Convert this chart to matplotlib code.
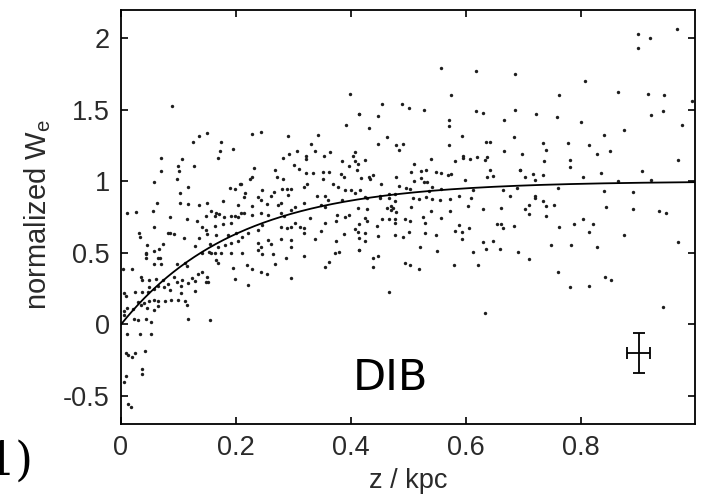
import numpy as np
import matplotlib
matplotlib.use("Agg")
import matplotlib.pyplot as plt

# ---- data ----
z_kpc = [
0.967,0.899,0.919,0.899,0.806,0.864,0.762,0.917,0.944,0.993,0.721,0.758,0.800,0.921,0.942,0.975,0.875,0.839,
0.734,0.739,0.777,0.813,0.828,0.851,0.697,0.735,0.781,0.780,0.968,0.906,0.834,0.703,0.717,0.734,0.804,0.694,
0.720,0.864,0.922,0.759,0.839,0.891,0.720,0.720,0.734,0.710,0.703,0.739,0.752,0.710,0.739,0.844,0.891,0.936,
0.947,0.762,0.787,0.804,0.821,0.813,0.874,0.748,0.783,0.828,0.968,0.710,0.759,0.781,0.813,0.842,0.852,0.942,
0.557,0.617,0.685,0.574,0.454,0.488,0.501,0.526,0.414,0.447,0.571,0.571,0.617,0.630,0.685,0.666,0.431,0.463,
0.593,0.684,0.447,0.478,0.491,0.483,0.571,0.634,0.642,0.666,0.595,0.595,0.606,0.619,0.636,0.633,0.539,0.581,
0.425,0.412,0.510,0.504,0.521,0.531,0.548,0.556,0.568,0.574,0.641,0.647,0.693,0.417,0.432,0.438,0.478,0.636,
0.433,0.510,0.522,0.526,0.532,0.598,0.416,0.452,0.484,0.496,0.503,0.541,0.536,0.557,0.612,0.665,0.688,0.425,
0.428,0.450,0.450,0.466,0.476,0.466,0.476,0.508,0.518,0.531,0.541,0.554,0.572,0.588,0.608,0.676,0.412,0.428,
0.463,0.470,0.473,0.478,0.469,0.504,0.539,0.572,0.603,0.629,0.660,0.424,0.428,0.454,0.466,0.477,0.477,0.493,
0.502,0.525,0.529,0.556,0.413,0.445,0.500,0.588,0.581,0.593,0.605,0.654,0.660,0.664,0.683,0.412,0.425,0.447,
0.476,0.490,0.528,0.547,0.593,0.414,0.425,0.630,0.647,0.414,0.519,0.550,0.612,0.635,0.659,0.690,0.438,0.447,
0.438,0.493,0.503,0.518,0.579,0.620,0.466,0.633,
0.399,0.413,0.392,0.228,0.243,0.291,0.343,0.330,0.337,0.306,0.292,0.282,0.322,0.322,0.353,0.363,0.407,0.403,
0.384,0.406,0.301,0.309,0.231,0.227,0.224,0.267,0.321,0.334,0.351,0.361,0.383,0.388,0.397,0.410,0.272,0.281,
0.351,0.208,0.245,0.280,0.288,0.295,0.319,0.323,0.369,0.377,0.389,0.400,0.407,0.215,0.213,0.238,0.243,0.261,
0.266,0.290,0.340,0.355,0.360,0.384,0.203,0.227,0.254,0.273,0.278,0.303,0.296,0.319,0.348,0.354,0.214,0.227,
0.244,0.256,0.278,0.283,0.329,0.375,0.373,0.389,0.396,0.354,0.303,0.312,0.279,0.289,0.296,0.319,0.319,0.245,
0.238,0.221,0.210,0.347,0.388,0.407,0.256,0.261,0.279,0.296,0.295,0.337,0.374,0.238,0.243,0.210,0.245,0.264,
0.287,0.319,0.372,0.379,0.203,
0.239,0.219,0.228,0.267,0.243,0.254,0.295,0.221,0.355,0.362,0.413,
0.089,0.126,0.135,0.150,0.173,0.172,0.168,0.195,0.069,0.069,0.106,0.099,0.100,0.127,0.097,0.057,0.117,0.103,
0.190,0.198,0.207,0.063,0.103,0.117,0.135,0.150,0.177,0.011,0.026,0.056,0.156,0.166,0.163,0.171,0.085,0.114,
0.132,0.148,0.179,0.192,0.199,0.209,0.163,0.178,0.192,0.057,0.081,0.085,0.092,0.031,0.033,0.110,0.140,0.147,
0.136,0.150,0.166,0.186,0.200,0.045,0.043,0.057,0.066,0.073,0.128,0.155,0.169,0.180,0.192,0.203,0.140,0.153,
0.163,0.174,0.192,0.068,
0.043,0.043,0.019,0.057,0.070,0.098,0.111,0.114,0.064,0.157,0.166,0.169,0.195,0.198,0.034,0.037,0.048,0.060,
0.073,0.092,0.098,0.106,0.123,0.129,0.117,0.134,0.140,0.150,0.147,0.151,0.006,0.008,0.025,0.037,0.047,0.048,
0.057,0.064,0.075,0.082,0.086,0.104,0.104,0.129,0.030,0.034,0.040,0.048,0.057,0.064,0.076,0.087,0.099,0.111,
0.114,0.011,0.021,0.046,0.057,0.064,0.005,0.006,0.023,0.030,0.043,0.053,0.117,0.155,0.011,0.033,0.052,0.009,
0.012,0.019,0.024,0.041,0.037,0.037,0.008,0.006,0.012,0.018,0.004,
]
w_norm = [
2.065,2.03,2.00,1.93,1.70,1.62,1.60,1.61,1.60,1.56,1.47,1.45,1.41,1.46,1.49,1.39,1.36,1.32,
1.27,1.22,1.27,1.25,1.19,1.21,1.19,1.14,1.15,1.10,1.15,1.07,1.06,1.03,1.05,1.04,1.03,1.08,
1.007,1.00,1.005,0.953,0.933,0.924,0.898,0.880,0.863,0.833,0.803,0.824,0.831,0.769,0.759,0.819,0.803,0.794,
0.778,0.678,0.699,0.738,0.704,0.646,0.627,0.558,0.553,0.542,0.572,0.454,0.368,0.259,0.266,0.331,0.310,0.123,
1.79,1.77,1.75,1.60,1.54,1.54,1.51,1.50,1.47,1.456,1.426,1.384,1.488,1.479,1.50,1.43,1.373,1.31,
1.315,1.306,1.262,1.255,1.262,1.217,1.25,1.275,1.271,1.21,1.178,1.162,1.153,1.171,1.169,1.151,1.153,1.141,
1.151,1.123,1.12,1.067,1.072,1.079,1.067,1.06,1.044,1.053,1.079,1.037,1.081,1.023,1.026,1.044,1.03,1.026,
1.014,1.002,1.019,0.995,0.995,1.007,0.938,0.979,0.965,0.953,0.944,0.96,0.933,0.944,0.94,0.935,0.953,0.889,
0.88,0.898,0.88,0.912,0.912,0.88,0.861,0.884,0.875,0.889,0.875,0.866,0.875,0.898,0.884,0.894,0.815,0.806,
0.81,0.824,0.81,0.787,0.796,0.822,0.792,0.792,0.824,0.806,0.815,0.741,0.722,0.734,0.734,0.736,0.711,0.736,
0.722,0.75,0.711,0.745,0.699,0.69,0.648,0.694,0.653,0.644,0.671,0.699,0.699,0.671,0.688,0.644,0.637,0.62,
0.625,0.611,0.639,0.625,0.597,0.606,0.583,0.574,0.583,0.523,0.542,0.514,0.509,0.528,0.528,0.505,0.463,0.477,
0.398,0.426,0.415,0.384,0.415,0.415,0.227,0.078,
1.609,1.47,1.389,1.331,1.345,1.317,1.319,1.262,1.213,1.208,1.19,1.164,1.178,1.155,1.174,1.204,1.204,1.174,
1.139,1.139,1.111,1.088,1.095,1.03,1.012,1.076,1.058,1.058,1.067,1.067,1.049,1.026,1.104,1.076,1.026,1.012,
1.012,0.979,0.938,0.947,0.947,0.947,0.956,0.979,0.979,0.956,0.938,0.938,0.915,0.915,0.891,0.891,0.868,0.896,
0.926,0.903,0.896,0.896,0.868,0.868,0.833,0.826,0.84,0.833,0.845,0.817,0.799,0.845,0.833,0.817,0.776,0.764,
0.78,0.764,0.776,0.757,0.741,0.764,0.724,0.752,0.764,0.706,0.706,0.683,0.678,0.671,0.678,0.671,0.637,0.694,
0.66,0.637,0.613,0.655,0.632,0.665,0.59,0.563,0.595,0.59,0.544,0.595,0.585,0.567,0.544,0.502,0.493,0.493,
0.463,0.481,0.502,0.509,0.752,
0.521,0.417,0.387,0.419,0.368,0.352,0.326,0.273,0.398,0.433,0.521,
1.528,1.273,1.315,1.336,1.271,1.208,1.164,1.222,1.164,1.072,1.157,1.109,1.072,1.109,1.016,0.991,0.956,0.919,
0.951,0.942,0.977,0.845,0.849,0.84,0.831,0.845,0.861,0.78,0.785,0.794,0.789,0.78,0.757,0.771,0.752,0.734,
0.72,0.757,0.752,0.757,0.757,0.776,0.688,0.701,0.706,0.678,0.641,0.637,0.632,0.641,0.613,0.604,0.678,0.66,
0.604,0.632,0.623,0.627,0.637,0.553,0.502,0.512,0.53,0.563,0.549,0.563,0.544,0.553,0.567,0.581,0.502,0.507,
0.498,0.502,0.498,0.463,
0.493,0.465,0.387,0.424,0.419,0.419,0.428,0.405,0.465,0.502,0.451,0.428,0.391,0.317,0.331,0.308,0.308,0.317,
0.312,0.331,0.299,0.312,0.326,0.303,0.289,0.354,0.368,0.331,0.299,0.294,0.22,0.197,0.224,0.224,0.224,0.262,
0.248,0.271,0.262,0.28,0.243,0.266,0.22,0.234,0.155,0.139,0.151,0.162,0.169,0.162,0.162,0.169,0.174,0.165,
0.139,0.116,0.109,0.116,0.104,0.127,0.092,0.063,0.039,0.030,0.039,0.016,0.039,0.030,-0.067,-0.067,-0.067,-0.201,
-0.215,-0.224,-0.201,-0.183,-0.308,-0.347,-0.363,-0.4,-0.556,-0.576,0.39,
]

# fitted model: W = 1 - exp(-z / h)
scale_height = 0.2

# representative error bar
err_z, err_w = 0.9, -0.2
err_dz, err_dw = 0.02, 0.14

x_ticks = [0, 0.2, 0.4, 0.6, 0.8]
x_ticklabels = ["0", "0.2", "0.4", "0.6", "0.8"]
y_ticks = [-0.5, 0, 0.5, 1, 1.5, 2]
y_ticklabels = ["-0.5", "0", "0.5", "1", "1.5", "2"]

# ---- figure ----
W, H = 713, 494
fig = plt.figure(figsize=(W / 100, H / 100), dpi=100)
ax = fig.add_axes([121 / W, 1 - 424 / H, (695 - 121) / W, (424 - 10) / H])

sans = ["Liberation Sans", "DejaVu Sans"]

ax.scatter(z_kpc, w_norm, s=6, marker="o", color="#1e1e1e", linewidths=0, zorder=3)

zz = np.linspace(0, 1.0, 400)
ax.plot(zz, 1 - np.exp(-zz / scale_height), color="black", lw=1.3, zorder=4)

ax.errorbar([err_z], [err_w], xerr=[err_dz], yerr=[err_dw], fmt="none",
            ecolor="black", elinewidth=1.3, capsize=4, capthick=1.3, zorder=5)

ax.set_xlim(0, 0.998)
ax.set_ylim(-0.695, 2.195)
ax.set_xticks(x_ticks)
ax.set_xticklabels(x_ticklabels)
ax.set_yticks(y_ticks)
ax.set_yticklabels(y_ticklabels)

for sp in ax.spines.values():
    sp.set_linewidth(1.3)
ax.tick_params(direction="in", length=5, width=1.2, top=True, right=True,
               labelsize=19.5, labelcolor="#2a2a2a", pad=8)
for lab in ax.get_xticklabels() + ax.get_yticklabels():
    lab.set_family(sans)

fig.text(38 / W, 1 - 215 / H, "normalized W$_\\mathregular{e}$", rotation=90,
         ha="center", va="center", fontsize=21, color="#2a2a2a", family=sans)
fig.text(408 / W, 1 - 481 / H, "z / kpc", ha="center", va="center",
         fontsize=19.5, color="#2a2a2a", family=sans)

fig.text(353 / W, 1 - 390 / H, "DIB", ha="left", va="baseline",
         fontsize=31, color="black", family=["DejaVu Sans"])
fig.text(-14 / W, 1 - 475 / H, "1)", ha="left", va="baseline",
         fontsize=33, color="black", family=["DejaVu Serif"])

fig.savefig("out.png", dpi=100)
